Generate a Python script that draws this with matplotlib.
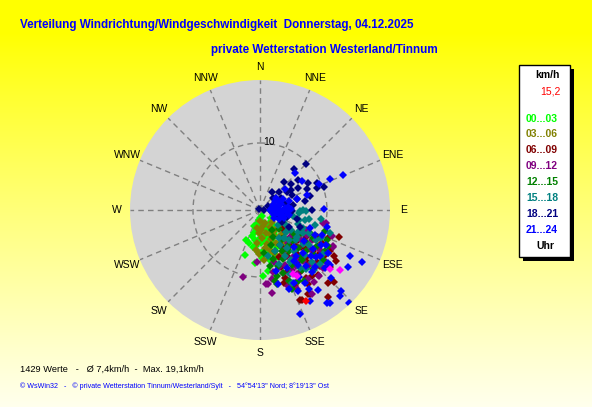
import numpy as np
import matplotlib
matplotlib.use('Agg')
from matplotlib import pyplot as plt
from matplotlib.patches import Rectangle

plt.rcParams['font.family'] = ['Liberation Sans', 'DejaVu Sans']

W, H = 592, 407

# ---------------- Daten (Richtung in Grad, Geschwindigkeit in km/h)
richt_00_03 = [180, 170, 190, 160, 150, 135, 200, 175, 165, 185, 155, 195, 145, 172, 160, 182, 190, 150, 168, 178,
               158, 186, 198, 165, 175, 155, 183, 170, 162, 178, 198, 205, 198, 177, 173, 168, 185, 160, 140, 128,
               188, 165, 152, 172, 180, 160, 170, 185, 176, 165, 190, 180, 170, 158, 148, 192]
speed_00_03 = [1.2, 1.8, 2.0, 2.2, 2.5, 2.3, 2.6, 2.8, 3.0, 3.2, 3.4, 3.5, 3.6, 3.9, 4.1, 4.3, 4.6, 4.5, 4.8, 5.0,
               5.2, 5.4, 5.1, 5.7, 6.0, 6.1, 6.3, 6.6, 6.9, 7.1, 7.1, 5.0, 4.1, 9.9, 9.2, 7.8, 8.0, 7.5, 3.0, 2.0,
               1.5, 1.0, 5.8, 4.4, 3.6, 2.7, 2.2, 2.4, 4.0, 4.5, 5.6, 6.6, 7.5, 3.8, 4.0, 3.0]

richt_03_06 = [160, 183, 181, 144, 170, 150, 175, 160, 140, 155, 190, 168, 150, 185, 165, 135, 178, 158, 145, 172,
               130, 162, 148, 175, 152, 166, 142, 176, 186, 156]
speed_03_06 = [2.1, 3.4, 6.6, 3.7, 2.5, 3.0, 4.2, 4.6, 4.8, 5.5, 2.8, 5.2, 6.0, 4.9, 3.6, 2.6, 1.6, 3.9, 5.0, 5.8,
               4.0, 6.8, 7.0, 7.5, 4.2, 6.2, 6.0, 3.0, 6.0, 7.5]

richt_06_09 = [109, 120, 124, 137, 134, 142, 156, 149, 115, 129, 150, 155, 125, 135, 145, 150, 140, 130, 120, 128,
               138, 147, 155, 160, 132, 142, 125, 118, 135, 145, 152, 162, 138, 128, 113, 150, 158, 143, 122, 133,
               147, 130, 126, 136, 146, 118, 140, 155, 132, 122, 160, 112]
speed_06_09 = [12.5, 12.1, 13.6, 14.9, 15.4, 16.4, 14.7, 14.6, 9.4, 13.4, 14.4, 14.8, 6.0, 6.5, 7.0, 8.0, 8.5, 9.0,
               8.0, 10.0, 10.5, 11.0, 10.0, 9.0, 11.5, 12.5, 11.8, 10.5, 7.5, 9.5, 12.0, 11.5, 13.0, 7.2, 7.5, 6.2,
               7.5, 5.5, 5.0, 12.2, 13.2, 4.5, 11.0, 9.8, 12.2, 9.2, 7.0, 12.5, 8.2, 13.0, 10.8, 11.0]

richt_09_12 = [194, 174, 172, 148, 101, 116, 183, 175, 117, 102, 125, 135, 145, 155, 140, 130, 150, 160, 120, 115,
               140, 150, 165, 160, 145, 135, 128, 155, 168, 110, 132, 142, 152, 124, 138, 138, 147, 128, 118, 158,
               162, 133, 143, 122, 152, 170, 126]
speed_09_12 = [10.3, 11.1, 12.5, 14.7, 10.0, 12.2, 7.8, 11.1, 12.3, 9.6, 7.0, 8.0, 8.5, 9.0, 10.0, 10.5, 11.0, 10.0,
               9.0, 7.5, 6.5, 7.0, 8.0, 12.0, 12.5, 11.8, 12.5, 13.0, 9.5, 11.5, 6.0, 9.2, 10.2, 10.8, 13.2, 11.0,
               10.0, 9.5, 8.0, 11.5, 9.0, 12.8, 13.5, 12.0, 8.0, 10.5, 7.5]

richt_12_15 = [108, 114, 167, 158, 166, 122, 130, 140, 150, 160, 145, 135, 125, 155, 165, 150, 140, 130, 120, 170,
               160, 145, 135, 155, 148, 125, 118, 138, 152, 162, 175, 142, 132, 128, 138, 148, 158, 122, 115, 143,
               152, 168, 133, 162, 118]
speed_12_15 = [10.2, 10.9, 11.3, 12.7, 10.2, 11.5, 5.0, 5.5, 6.0, 6.5, 7.5, 8.0, 8.5, 8.0, 7.5, 9.5, 9.8, 10.5, 7.0,
               8.5, 10.0, 11.0, 4.0, 4.5, 3.5, 6.2, 9.0, 11.8, 12.0, 8.8, 6.5, 6.8, 9.2, 12.0, 9.2, 12.5, 11.5, 10.0,
               8.2, 5.5, 7.0, 10.8, 6.8, 5.5, 11.5]

richt_15_18 = [91, 94, 156, 90, 92, 103, 100, 110, 120, 130, 115, 105, 125, 135, 140, 145, 150, 120, 110, 130,
               140, 150, 160, 145, 135, 125, 100, 115, 160, 170, 130, 98, 108, 138, 152, 118, 118, 128, 142, 148,
               112, 122, 132, 155, 126, 136, 104, 146]
speed_15_18 = [6.9, 5.8, 11.9, 6.4, 6.0, 6.9, 5.0, 6.0, 6.5, 7.0, 8.0, 8.5, 9.0, 9.5, 8.0, 7.0, 6.0, 4.5, 4.0, 5.0,
               5.5, 9.0, 8.5, 10.5, 11.0, 11.5, 7.5, 10.0, 6.5, 7.0, 3.5, 9.2, 11.0, 12.0, 7.8, 7.2, 9.5, 8.2, 11.2,
               8.8, 7.0, 5.5, 12.0, 10.5, 6.8, 6.2, 6.0, 5.0]

richt_18_21 = [45, 50, 61, 69, 74, 90, 46, 56, 74, 82, 74, 300, 85, 59, 48, 104, 113, 102, 65, 66,
               103, 90, 95, 70, 80, 100, 60, 88, 110, 92, 65, 40, 35, 78, 120, 118, 62, 60, 52, 70, 57, 40]
speed_18_21 = [9.8, 6.1, 8.2, 9.1, 7.8, 7.8, 3.9, 4.8, 5.7, 5.0, 3.7, 0.2, 0.6, 2.9, 2.7, 4.1, 6.5, 3.4, 9.4, 7.7,
               5.7, 2.5, 3.5, 2.0, 4.2, 2.2, 3.6, 1.5, 3.0, 4.8, 5.2, 5.5, 3.2, 6.8, 5.0, 3.8, 1.4, 6.5, 7.2, 10.2,
               5.5, 8.0]

richt_21_24 = [43, 55, 66, 67, 66, 89, 104, 50, 72, 74, 70, 80, 90, 100, 110, 85, 75, 95, 105, 60,
               90, 115, 80, 65, 100, 88, 55, 120, 95, 72, 117, 123, 136, 144, 143, 159, 151, 144, 148, 155,
               166, 134, 137, 128, 117, 135, 125, 135, 145, 140, 130, 120, 150, 155, 115, 128, 138, 160, 110, 142,
               132, 148, 122, 165, 126, 136, 118, 146, 132, 112, 155, 141, 127, 78, 92, 102, 84, 68, 98, 108]
speed_21_24 = [7.6, 7.6, 11.5, 13.5, 9.6, 9.6, 10.3, 4.9, 7.4, 5.7, 2.0, 2.5, 3.0, 2.8, 2.2, 3.8, 3.3, 4.0, 3.6, 2.6,
               1.5, 3.2, 1.8, 3.8, 4.4, 4.6, 3.0, 2.4, 2.2, 4.5, 15.1, 15.7, 19.2, 17.1, 17.4, 16.6, 15.5, 14.7, 13.9,
               13.3, 11.4, 14.7, 17.6, 13.3, 17.0, 17.1, 8.0, 9.0, 10.0, 12.0, 11.0, 10.5, 11.5, 9.5, 9.0, 12.8, 7.5,
               12.5, 8.0, 8.8, 10.2, 12.8, 12.0, 9.5, 9.8, 11.8, 11.2, 9.2, 13.0, 10.0, 12.0, 10.8, 11.3, 2.8, 3.4,
               3.2, 4.2, 3.0, 1.8, 3.8]

richt_magenta = [127, 130, 153, 151]
speed_magenta = [15.0, 13.6, 10.7, 11.3]
richt_aktuell = [153]
speed_aktuell = [15.2]

gruppen = ['00...03', '03...06', '06...09', '09...12', '12...15', '15...18', '18...21', '21...24']
farben = ['#00ff00', '#808000', '#800000', '#800080', '#008000', '#008080', '#000080', '#0000ff']
richtungen = [richt_00_03, richt_03_06, richt_06_09, richt_09_12, richt_12_15, richt_15_18, richt_18_21, richt_21_24]
speeds = [speed_00_03, speed_03_06, speed_06_09, speed_09_12, speed_12_15, speed_15_18, speed_18_21, speed_21_24]

himmel = ['N', 'NNE', 'NE', 'ENE', 'E', 'ESE', 'SE', 'SSE', 'S', 'SSW', 'SW', 'WSW', 'W', 'WNW', 'NW', 'NNW']
r_max = 19.4
aktuell_text = '15,2'
statistik = '1429 Werte   -   \u00d8 7,4km/h  -  Max. 19,1km/h'
fusszeile = '\u00a9 WsWin32   -   \u00a9 private Wetterstation Tinnum/Westerland/Sylt   -   54\u00b054\'13" Nord; 8\u00b019\'13" Ost'

# ---------------- Hintergrund
fig = plt.figure(figsize=(W / 100, H / 100), dpi=100)
bg = fig.add_axes([0, 0, 1, 1])
t = np.clip((np.linspace(0, 1, 200) - 0.08) / 0.92, 0, 1)
blau = t ** 0.9 * 0.93
grad = np.zeros((200, 2, 3))
grad[:, :, 0] = 1.0
grad[:, :, 1] = 1.0
grad[:, :, 2] = blau[:, None]
bg.imshow(grad, aspect='auto', extent=[0, 1, 0, 1], origin='upper')
bg.set_xlim(0, 1)
bg.set_ylim(0, 1)
bg.axis('off')

# ---------------- Polardiagramm
cx, cy, rad = 260, 210, 130
ax = fig.add_axes([(cx - rad) / W, (H - cy - rad) / H, 2 * rad / W, 2 * rad / H], projection='polar')
ax.set_theta_zero_location('N')
ax.set_theta_direction(-1)
ax.set_facecolor('#d4d4d4')
ax.spines['polar'].set_visible(False)
ax.set_ylim(0, r_max)
ax.set_thetagrids(np.arange(0, 360, 22.5), [''] * 16)
ax.set_rgrids([10], [''])
ax.grid(True, color='#808080', linestyle=(0, (4, 3)), linewidth=1)

for richt, speed, farbe in zip(richtungen, speeds, farben):
    ax.plot(np.deg2rad(richt), speed, linestyle='none', marker='D', ms=3.6, mew=0, color=farbe)
ax.plot(np.deg2rad(richt_magenta), speed_magenta, linestyle='none', marker='D', ms=3.6, mew=0, color='#ff00ff')
ax.plot(np.deg2rad(richt_aktuell), speed_aktuell, linestyle='none', marker='D', ms=3.6, mew=0, color='#ff0000')

for i, name in enumerate(himmel):
    ax.text(np.deg2rad(i * 22.5), 21.4, name, ha='center', va='center', fontsize=7.5, clip_on=False)
ax.text(np.deg2rad(7.5), 10.2, '10', ha='center', va='center', fontsize=7.5)

# ---------------- Titel
fig.text(20 / W, 1 - 25 / H, 'Verteilung Windrichtung/Windgeschwindigkeit  Donnerstag, 04.12.2025',
         color='#0000ff', fontsize=8.4, fontweight='bold', ha='left', va='center')
fig.text(211 / W, 1 - 50 / H, 'private Wetterstation Westerland/Tinnum',
         color='#0000ff', fontsize=8.4, fontweight='bold', ha='left', va='center')

# ---------------- Legende
fig.add_artist(Rectangle((523 / W, 1 - 261 / H), 51 / W, 192 / H, transform=fig.transFigure,
                         facecolor='black', edgecolor='none'))
fig.add_artist(Rectangle((519 / W, 1 - 257 / H), 51 / W, 192 / H, transform=fig.transFigure,
                         facecolor='white', edgecolor='black', linewidth=1))
fig.text(547 / W, 1 - 75 / H, 'km/h', fontsize=7.5, fontweight='bold', ha='center', va='center')
fig.text(561 / W, 1 - 92 / H, aktuell_text, fontsize=7.5, color='#ff0000', ha='right', va='center')
for i, (g, farbe) in enumerate(zip(gruppen, farben)):
    fig.text(542 / W, 1 - (118.5 + i * 15.9) / H, g, fontsize=7.5, fontweight='bold', color=farbe,
             ha='center', va='center')
fig.text(545 / W, 1 - 246 / H, 'Uhr', fontsize=7.5, fontweight='bold', ha='center', va='center')

# ---------------- Fusszeile
fig.text(20 / W, 1 - 369 / H, statistik, fontsize=6.7, ha='left', va='center')
fig.text(20 / W, 1 - 386 / H, fusszeile, fontsize=5.1, color='#0000ff', ha='left', va='center')

fig.savefig('out.png', dpi=100)
